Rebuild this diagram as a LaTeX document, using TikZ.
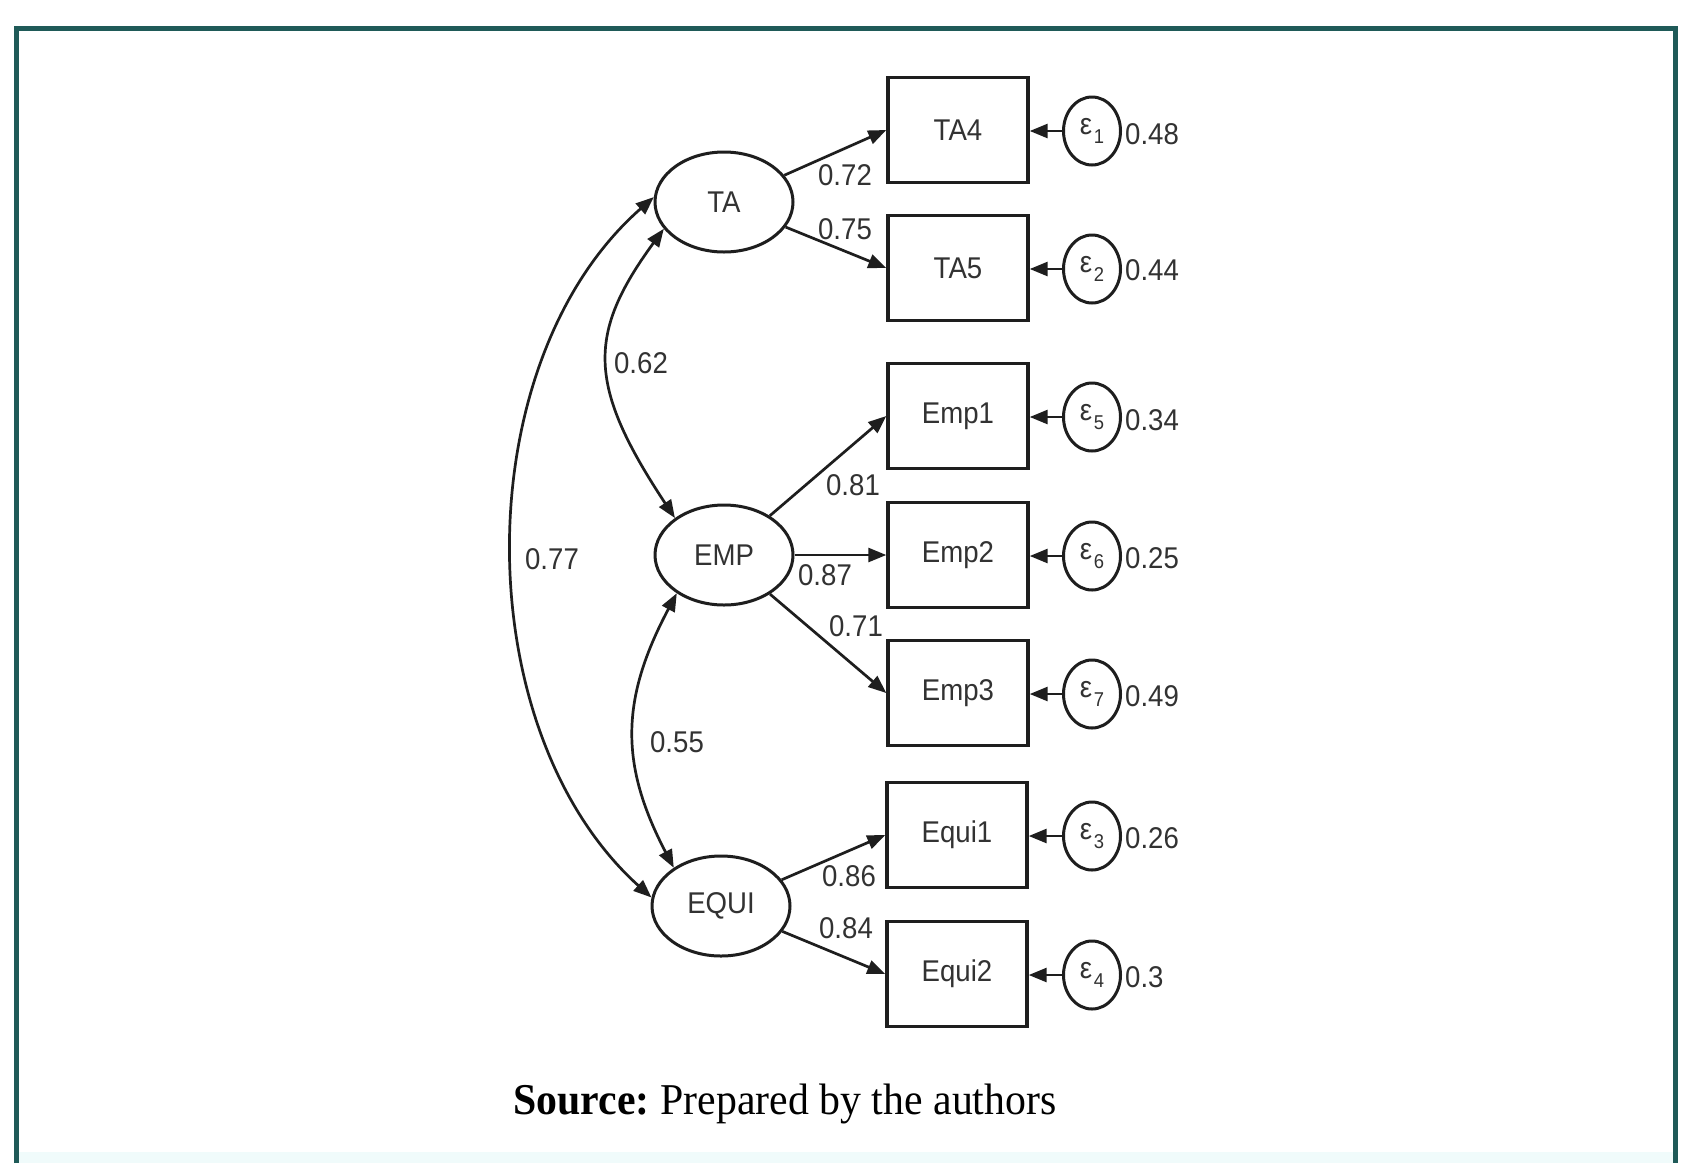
\documentclass[tikz,border=0pt]{standalone}
\usepackage{fontspec}
\setmainfont{Liberation Sans}[FakeStretch=0.92]
\newfontfamily\captionfont{Liberation Serif}[FakeStretch=0.95]
\usetikzlibrary{shapes.geometric,arrows.meta}
\definecolor{frameteal}{RGB}{31,90,88}
\definecolor{ink}{RGB}{30,30,30}
\definecolor{labelgray}{RGB}{50,50,50}
\definecolor{paleband}{RGB}{240,251,251}
% error term label: epsilon with a lowered index
\newcommand{\errlabel}[1]{{\fontsize{30}{32}\selectfont ε}\kern1.5pt\raisebox{-9pt}{\fontsize{20}{20}\selectfont #1}}
\begin{document}
\begin{tikzpicture}[x=1pt,y=-1pt,
  lbl/.style={font=\fontsize{30}{34}\selectfont,text=labelgray,inner sep=0pt},
  latent/.style={ellipse,draw=ink,line width=3pt,minimum width=138pt,
    minimum height=100pt,inner sep=0pt,lbl},
  observed/.style={rectangle,draw=ink,line width=3.4pt,minimum width=140pt,
    minimum height=105pt,inner sep=0pt,lbl},
  errterm/.style={ellipse,draw=ink,line width=3pt,minimum width=57pt,
    minimum height=68pt,inner sep=0pt,text=labelgray},
  tip/.tip={Triangle[length=18pt,width=14pt]},
  load/.style={draw=ink,line width=2.7pt,-tip},
  cov/.style={draw=ink,line width=2.7pt,tip-tip},
]
\useasboundingbox (0,0) rectangle (1681,1163);
\fill[white] (0,0) rectangle (1681,1163);
\fill[paleband] (18,1152) rectangle (1673,1163);
% frame open at the bottom
\draw[frameteal,line width=5pt] (16,1163) -- (16,28) -- (1675,28) -- (1675,1163);

% latent factors
\node[latent] (TA)   at (724,202) {TA};
\node[latent] (EMP)  at (724,555) {EMP};
\node[latent] (EQUI) at (721,906) {EQUI};

% indicators
\node[observed] (TA4)   at (958,130) {TA4};
\node[observed] (TA5)   at (958,268) {TA5};
\node[observed] (Emp1)  at (958,416) {Emp1};
\node[observed] (Emp2)  at (958,555) {Emp2};
\node[observed] (Emp3)  at (958,693) {Emp3};
\node[observed] (Equi1) at (957,835) {Equi1};
\node[observed] (Equi2) at (957,974) {Equi2};

% error terms
\node[errterm] (e1) at (1092,131) {\errlabel{1}};
\node[errterm] (e2) at (1092,269) {\errlabel{2}};
\node[errterm] (e5) at (1092,417) {\errlabel{5}};
\node[errterm] (e6) at (1092,556) {\errlabel{6}};
\node[errterm] (e7) at (1092,694) {\errlabel{7}};
\node[errterm] (e3) at (1092,836) {\errlabel{3}};
\node[errterm] (e4) at (1092,975) {\errlabel{4}};

% error variances
\node[lbl,anchor=west] (v1) at (1125,134) {0.48};
\node[lbl,anchor=west] (v2) at (1125,270) {0.44};
\node[lbl,anchor=west] (v5) at (1125,420) {0.34};
\node[lbl,anchor=west] (v6) at (1125,558) {0.25};
\node[lbl,anchor=west] (v7) at (1125,696) {0.49};
\node[lbl,anchor=west] (v3) at (1125,838) {0.26};
\node[lbl,anchor=west] (v4) at (1125,977) {0.3};

% loadings
\draw[load] (TA) -- (TA4.west);
\draw[load] (TA) -- (TA5.west);
\draw[load] (EMP) -- (Emp1.west);
\draw[load] (EMP) -- (Emp2.west);
\draw[load] (EMP) -- (Emp3.west);
\draw[load] (EQUI) -- (Equi1.west);
\draw[load] (EQUI) -- (Equi2.west);

\node[lbl] (l1) at (845,175) {0.72};
\node[lbl] (l2) at (845,229) {0.75};
\node[lbl] (l3) at (853,485) {0.81};
\node[lbl] (l4) at (825,575) {0.87};
\node[lbl] (l5) at (856,626) {0.71};
\node[lbl] (l6) at (849,876) {0.86};
\node[lbl] (l7) at (846,928) {0.84};

% error paths
\foreach \e/\b in {e1/TA4,e2/TA5,e5/Emp1,e6/Emp2,e7/Emp3,e3/Equi1,e4/Equi2}
  \draw[load] (\e.west) -- (\b.east |- \e.west);

% factor covariances
\draw[cov] (TA.204) .. controls (587,334) and (587,385) .. (EMP.143);
\draw[cov] (EMP.219) .. controls (620,700) and (620,765) .. (EQUI.141);
\draw[cov] (TA.176) .. controls (466,362) and (466,730) .. (EQUI.173);

\node[lbl] (c1) at (641,363) {0.62};
\node[lbl] (c2) at (677,742) {0.55};
\node[lbl] (c3) at (552,559) {0.77};

% source note
\node[font=\captionfont\fontsize{44}{50}\selectfont,text=black,inner sep=0pt]
  (src) at (785,1104) {\textbf{Source:}\hspace{-3pt} Prepared by the authors};
\end{tikzpicture}
\end{document}
